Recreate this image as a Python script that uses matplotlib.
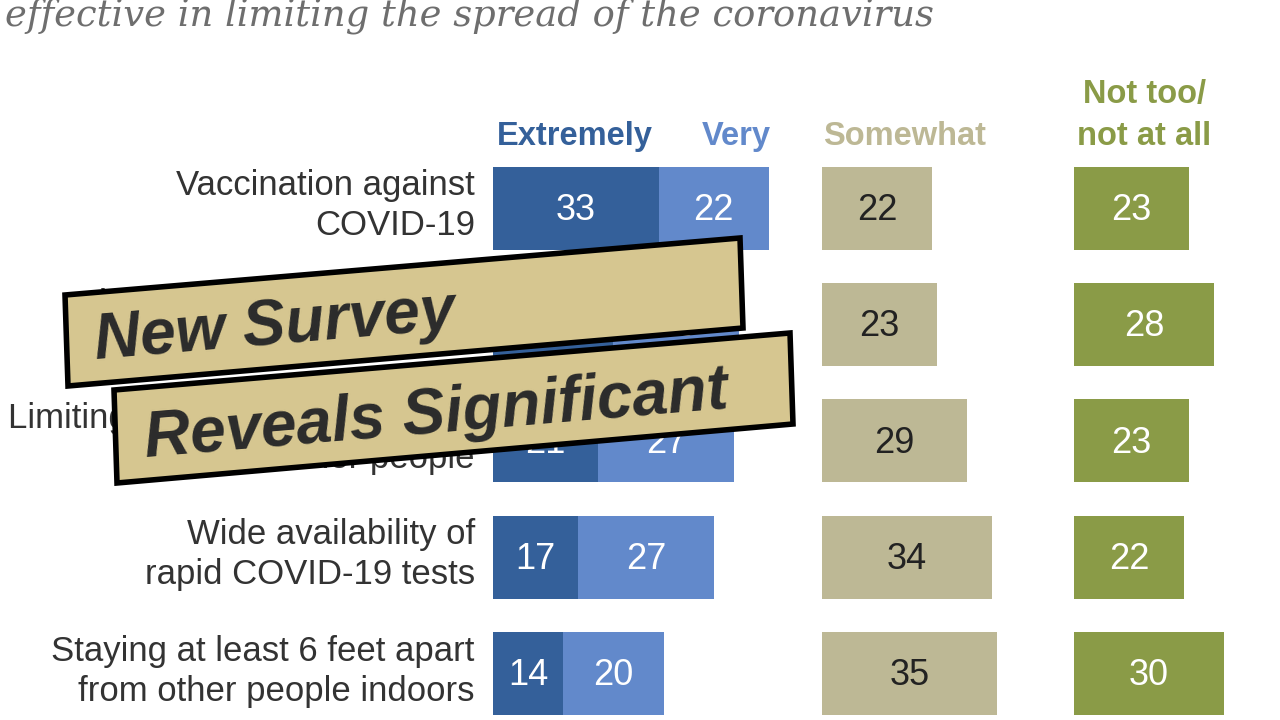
import matplotlib
matplotlib.use('Agg')
import matplotlib.pyplot as plt
from matplotlib.patches import Polygon

# data
labels = ['Vaccination against\nCOVID-19',
          'Wearing a mask indoors\nin public places',
          'Limiting in-person contact with\nother people',
          'Wide availability of\nrapid COVID-19 tests',
          'Staying at least 6 feet apart\nfrom other people indoors']
extremely = [33, 24, 21, 17, 14]
very = [22, 25, 27, 27, 20]
somewhat = [22, 23, 29, 34, 35]
not_too = [23, 28, 23, 22, 30]

c_ext = '#34609a'
c_very = '#6289cb'
c_some = '#bdb895'
c_not = '#8a9b47'

fig = plt.figure(figsize=(12.8, 7.2), dpi=100)
ax = fig.add_axes([0, 0, 1, 1])
ax.set_xlim(-98.2, 156.8)
ax.set_ylim(4.40, -1.79)
ax.axis('off')

some_start = 65.5
not_start = 115.7
h = 0.715
ys = list(range(len(labels)))

ax.barh(ys, extremely, height=h, left=0, color=c_ext)
ax.barh(ys, very, height=h, left=extremely, color=c_very)
ax.barh(ys, somewhat, height=h, left=some_start, color=c_some)
ax.barh(ys, not_too, height=h, left=not_start, color=c_not)

vfont = dict(fontsize=26, ha='center', va='center', family=['Liberation Sans Narrow', 'Liberation Sans', 'DejaVu Sans'])
for i in ys:
    ax.text(extremely[i] / 2, i + 0.02, str(extremely[i]), color='white', **vfont)
    ax.text(extremely[i] + very[i] / 2, i + 0.02, str(very[i]), color='white', **vfont)
    ax.text(some_start + somewhat[i] / 2, i + 0.02, str(somewhat[i]), color='#222222', **vfont)
    ax.text(not_start + not_too[i] / 2, i + 0.02, str(not_too[i]), color='white', **vfont)
    ax.text(-3.6, i - 0.02, labels[i], ha='right', va='center', fontsize=25, color='#333333',
            linespacing=1.27, family=['Liberation Sans', 'DejaVu Sans'])

hfont = dict(fontsize=23.5, fontweight='bold', ha='center', va='baseline',
             family=['Liberation Sans Narrow', 'Liberation Sans', 'DejaVu Sans'])
hy = -0.54
ax.text(16.3, hy, 'Extremely', color=c_ext, **hfont)
ax.text(48.5, hy, 'Very', color=c_very, **hfont)
ax.text(82.0, hy, 'Somewhat', color=c_some, **hfont)
ax.text(129.8, hy, 'Not too/\nnot at all', color=c_not, linespacing=1.48, **hfont)

# subtitle (cut at top, as in the source image)
fig.text(0.004, 1 - 25 / 720, 'effective in limiting the spread of the coronavirus',
         fontsize=26.6, style='italic', color='#6e6e6e', va='baseline',
         family=['DejaVu Serif'])

# overlay banners
ov = fig.add_axes([0, 0, 1, 1])
ov.set_xlim(0, 1280)
ov.set_ylim(720, 0)
ov.axis('off')
ov.patch.set_alpha(0)
ov.add_patch(Polygon([(65, 295), (740, 238), (743, 328), (68, 386)], closed=True,
                     facecolor='#d6c690', edgecolor='black', linewidth=4))
ov.add_patch(Polygon([(114, 390), (790, 333), (793, 424), (117, 483)], closed=True,
                     facecolor='#d6c690', edgecolor='black', linewidth=4))
bfont = dict(fontsize=46, fontweight='bold', style='italic', color='#2b2b2b',
             rotation=4.8, rotation_mode='anchor', va='baseline', ha='left',
             family=['Liberation Sans', 'DejaVu Sans'])
ov.text(96, 359, 'New Survey', **bfont)
ov.text(146, 457, 'Reveals Significant', **bfont)

plt.savefig('out.png', dpi=100)
plt.close(fig)
